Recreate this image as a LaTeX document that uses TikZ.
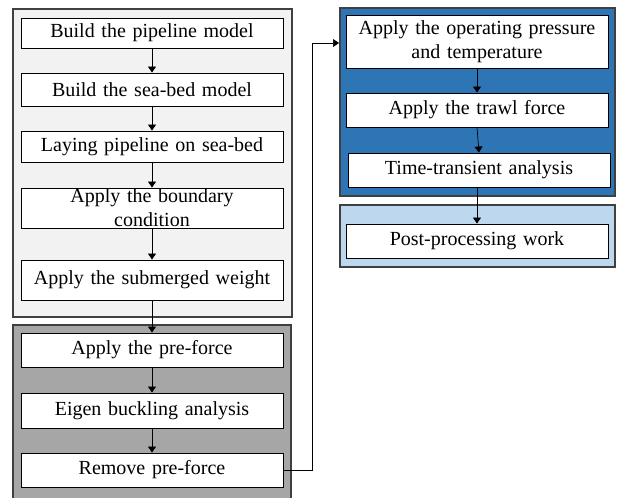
\documentclass[tikz,border=0pt]{standalone}
\usepackage{fontspec}
\setmainfont{Liberation Serif}
\usetikzlibrary{arrows.meta}
\definecolor{grpLight}{HTML}{F2F2F2}
\definecolor{grpDark}{HTML}{A6A6A6}
\definecolor{grpBlue}{HTML}{2E75B6}
\definecolor{grpPale}{HTML}{BDD7EE}
\definecolor{grpEdge}{HTML}{404040}
\tikzset{
  stepbox/.style={draw=black, line width=0.9pt, fill=white, minimum width=262pt,
    text width=258pt, align=center, inner sep=0pt, font=\fontsize{20}{24}\selectfont},
  grp/.style={draw=grpEdge, line width=1.2pt},
  flow/.style={draw=black, line width=0.7pt, -{Triangle[width=8pt,length=6pt]}},
}
\begin{document}
\begin{tikzpicture}[x=1pt,y=-1pt]
\useasboundingbox (0,0) rectangle (622,498);
% group backgrounds
\fill[grpLight] (13,9) rectangle (292,317);
\draw[grp] (13,9) rectangle (292,317);
\fill[grpDark] (13,325) rectangle (291,500);
\draw[grp] (13,500) -- (13,325) -- (291,325) -- (291,500);
\fill[grpBlue] (340,8) rectangle (615,196);
\draw[grp] (340,8) rectangle (615,196);
\fill[grpPale] (340,205) rectangle (615,267);
\draw[grp] (340,205) rectangle (615,267);
% steps, left column
\node[stepbox, minimum height=30pt] (b1) at (152,33) {Build the pipeline model};
\node[stepbox, minimum height=33pt] (b2) at (152,89.5) {Build the sea-bed model};
\node[stepbox, minimum height=31pt] (b3) at (152,146.5) {Laying pipeline on sea-bed};
\node[stepbox, minimum height=40pt] (b4) at (152,208) {Apply the boundary\\condition};
\node[stepbox, minimum height=40pt] (b5) at (152,280) {Apply the submerged weight};
\node[stepbox, minimum height=34pt] (b6) at (152,350) {Apply the pre-force};
\node[stepbox, minimum height=35pt] (b7) at (152,410.5) {Eigen buckling analysis};
\node[stepbox, minimum height=34pt] (b8) at (152,470) {Remove pre-force};
% steps, right column
\node[stepbox, minimum height=53pt] (b9) at (477,41.5) {Apply the operating pressure\\and temperature};
\node[stepbox, minimum height=34pt] (b10) at (477,110) {Apply the trawl force};
\node[stepbox, minimum height=34pt] (b11) at (479,170) {Time-transient analysis};
\node[stepbox, minimum height=34pt] (b12) at (477,241) {Post-processing work};
% connectors
\foreach \a/\b in {b1/b2,b2/b3,b3/b4,b4/b5,b5/b6,b6/b7,b7/b8,b9/b10,b10/b11}
  \draw[flow] (\a.south) -- (\b.north);
\draw[flow] (b11.south -| b10.south) -- (b12.north -| b10.south);
\coordinate (g3w) at (339,43);
\draw[flow] (b8.east) -- (312,470) -- (312,43) -- (g3w);
\end{tikzpicture}
\end{document}
